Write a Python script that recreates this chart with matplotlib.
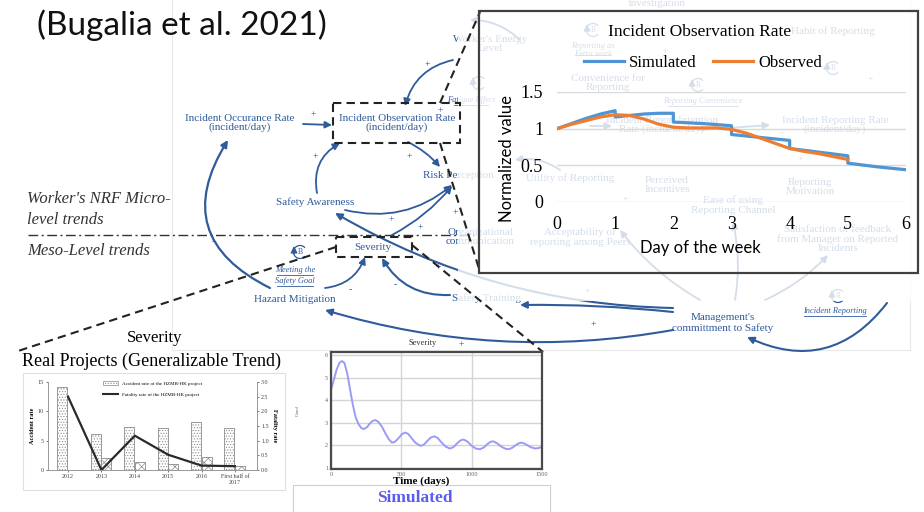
import numpy as np
import matplotlib
matplotlib.use("Agg")
import matplotlib.pyplot as plt
from matplotlib.patches import Rectangle, Arc
from matplotlib.lines import Line2D
from matplotlib.patches import Patch

# incident observation rate, normalised, by day of the week
obs_days = [0, 0.25, 0.5, 0.75, 1, 1.25, 1.5, 1.75, 2, 2.25, 2.5, 2.75, 3,
            3.25, 3.5, 3.75, 4, 4.25, 4.5, 4.75, 5]
obs_vals = [1.00, 1.06, 1.11, 1.16, 1.19, 1.18, 1.13, 1.06, 1.02, 1.01, 1.01,
            1.01, 0.99, 0.94, 0.87, 0.80, 0.73, 0.69, 0.66, 0.62, 0.58]
sim_days = [0, 0.25, 0.5, 0.75, 1, 1, 1.25, 1.5, 1.75, 2, 2, 2.5, 3, 3, 3.5,
            4, 4, 4.5, 5, 5, 5.5, 6]
sim_vals = [1.00, 1.07, 1.14, 1.20, 1.245, 1.16, 1.18, 1.20, 1.21, 1.21, 1.09,
            1.07, 1.04, 0.92, 0.88, 0.84, 0.73, 0.68, 0.63, 0.53, 0.48, 0.44]

# real projects (HZMB-HK)
years = ["2012", "2013", "2014", "2015", "2016", "First half of\n2017"]
accident_rate = [14.1, 6.2, 7.3, 7.2, 8.2, 7.2]
accident_rate_2 = [0, 2.0, 1.4, 1.1, 2.2, 0.6]
fatality_rate = [2.5, 0.0, 1.17, 0.52, 0.15, 0.13]

# simulated severity
sev_t = [0, 20, 40, 60, 78, 95, 115, 135, 155, 175, 195, 215, 232, 255, 275,
         295, 315, 335, 360, 385, 410, 434, 455, 480, 505, 528, 550, 575, 600,
         635, 660, 685, 710, 735, 760, 785, 815, 844, 870, 895, 920, 943, 970,
         1000, 1030, 1057, 1085, 1110, 1135, 1152, 1180, 1210, 1240, 1263,
         1290, 1315, 1340, 1358, 1385, 1420, 1453, 1480, 1500]
sev_v = [4.45, 4.9, 5.35, 5.65, 5.73, 5.65, 5.2, 4.5, 3.8, 3.25, 2.95, 2.77,
         2.72, 2.8, 2.96, 3.08, 3.12, 3.05, 2.85, 2.55, 2.28, 2.12, 2.16, 2.32,
         2.5, 2.57, 2.5, 2.3, 2.12, 1.98, 2.03, 2.2, 2.35, 2.4, 2.32, 2.13,
         1.95, 1.86, 1.92, 2.08, 2.22, 2.26, 2.17, 1.98, 1.86, 1.83, 1.9, 2.05,
         2.16, 2.18, 2.1, 1.95, 1.85, 1.83, 1.9, 2.02, 2.11, 2.12, 2.05, 1.92,
         1.86, 1.89, 1.93]

BLUE = "#2f5b9a"
SERIF = "Liberation Serif"
SANS = "Lato"
plt.rcParams["font.family"] = SERIF
plt.rcParams["hatch.linewidth"] = 0.5
plt.rcParams["hatch.color"] = "#8a8a8a"

fig = plt.figure(figsize=(9.24, 5.12), dpi=100)
bg = fig.add_axes([0, 0, 1, 1])
bg.set_xlim(0, 924)
bg.set_ylim(512, 0)
bg.axis("off")


def box_axes(l, t, r, b):
    return fig.add_axes([l / 924, 1 - b / 512, (r - l) / 924, (b - t) / 512])


def lbl(x, y, s, size=8, color=BLUE, z=3, ha="center", **kw):
    bg.text(x, y, s, ha=ha, va="center", fontsize=size, color=color,
            zorder=z, linespacing=1.05, multialignment="center", **kw)


def uline(x, y, s, w, size=6):
    lbl(x, y, s, size=size, style="italic")
    bg.plot([x - w / 2, x + w / 2], [y + 5, y + 5], color=BLUE, lw=0.6, zorder=3)


def arrow(p0, p1, rad=0.0, lw=1.3, z=3, head=True):
    bg.annotate("", xy=p1, xytext=p0, zorder=z,
                arrowprops=dict(arrowstyle="-|>" if head else "-", color=BLUE, lw=lw,
                                shrinkA=0, shrinkB=0, mutation_scale=10,
                                connectionstyle=f"arc3,rad={rad}"))


def loop(x, y, letter):
    bg.add_patch(Arc((x, y), 13, 13, theta1=40, theta2=320, color=BLUE, lw=0.9, zorder=3))
    lbl(x, y, letter, size=5.5)
    arrow((x - 6, y + 2), (x - 6, y - 6), lw=0.9)


# title
bg.text(37, 25, "(Bugalia et al. 2021)", family=SANS, fontsize=24, va="center", ha="left", color="#111")

# faint diagram frame
bg.add_patch(Rectangle((172, -5), 738, 355, fill=False, edgecolor="#e8e8e8", lw=0.8, zorder=1))

# level labels and separator
lbl(27, 199, "Worker's NRF Micro-", size=12, color="#333", ha="left", style="italic")
lbl(27, 220, "level trends", size=12, color="#333", ha="left", style="italic")
lbl(27, 251, "Meso-Level trends", size=12, color="#333", ha="left", style="italic")
bg.plot([28, 480], [235, 235], color="#333", lw=1, ls=(0, (7, 2.5, 1.5, 2.5)), zorder=2)

# diagram variables
lbl(240, 123, "Incident Occurance Rate\n(incident/day)")
lbl(397, 123, "Incident Observation Rate\n(incident/day)")
lbl(423, 175, "Risk Perception", ha="left")
lbl(315, 202, "Safety Awareness")
lbl(373, 247, "Severity")
lbl(295, 299, "Hazard Mitigation")
lbl(446, 237, "Organizational\ncommunication", ha="left")
lbl(452, 298, "Safety Training", ha="left")
lbl(723, 323, "Management's\ncommittment to Safety")
lbl(490, 44, "Worker's Energy\nLevel")
uline(471, 100, "Fatigue Effect", 34)
lbl(423, 343, "Severity", size=6, color="#333")
uline(295, 270, "Meeting the", 36)
uline(295, 281, "Safety Goal", 36)
uline(835, 311, "Incident Reporting", 62)
loop(300, 252, "B")
loop(838, 296, "R")

# faded sub-model behind the observation-rate chart
lbl(657, 4, "Investigation")
uline(593, 50, "Reporting as\nExtra work", 36)
loop(593, 30, "B")
lbl(833, 31, "Habit of Reporting")
loop(833, 68, "R")
lbl(608, 83, "Convenience for\nReporting")
loop(698, 85, "R")
uline(703, 101, "Reporting Convenience", 70)
lbl(662, 125, "Incident Report Intention\nRate (incident/day)")
lbl(835, 125, "Incident Reporting Rate\n(incident/day)")
lbl(570, 178, "Utility of Reporting")
lbl(667, 185, "Perceived\nIncentives")
lbl(733, 205, "Ease of using\nReporting Channel")
lbl(810, 187, "Reporting\nMotivation")
lbl(580, 237, "Acceptability of\nreporting among Peers")
lbl(838, 239, "Satisfaction of feedback\nfrom Manager on Reported\nIncidents")
loop(479, 83, "1")
arrow((735, 300), (733, 222), rad=0.1)
arrow((765, 300), (828, 255), rad=0.1)
arrow((700, 300), (620, 230), rad=-0.1)
arrow((560, 170), (515, 160), rad=0.2)
arrow((700, 130), (770, 125))
arrow((590, 126), (612, 126))
arrow((520, 40), (470, 20), rad=0.2)

# links
arrow((453, 60), (405, 106), rad=0.3)
arrow((303, 124), (332, 125))
arrow((317, 193), (340, 143), rad=-0.35)
arrow((408, 142), (440, 167), rad=-0.1)
arrow((270, 288), (228, 140), rad=-0.55, lw=1.6)
arrow((345, 210), (452, 185), rad=0.25)
arrow((392, 235), (452, 186), rad=0.1)
arrow((673, 308), (335, 213), rad=-0.13, lw=1.5)
arrow((450, 295), (382, 258), rad=-0.3, lw=1.5)
arrow((325, 288), (365, 257), rad=0.3)
arrow((673, 330), (325, 310), rad=-0.12, lw=1.5)
arrow((673, 312), (520, 305), rad=0.03, lw=1.5)
arrow((887, 303), (747, 337), rad=-0.4, lw=1.5)
for sx, sy, sgn in [(313, 115, "+"), (427, 65, "+"), (315, 157, "+"), (409, 157, "+"),
                    (391, 220, "+"), (420, 228, "+"), (455, 213, "+"), (438, 268, "+"),
                    (593, 325, "+"), (461, 345, "+"), (587, 292, "+"), (350, 290, "-"),
                    (395, 285, "-"), (213, 242, "-"), (440, 111, "+"), (665, 52, "+"),
                    (800, 160, "+"), (625, 200, "+"), (870, 80, "+")]:
    lbl(sx, sy, sgn, size=7)

# fade overlay of the zoomed region
bg.add_patch(Rectangle((458, -2), 470, 303, facecolor="white", alpha=0.8, edgecolor="none", zorder=5))

# callout boxes and dashed connectors
dash = dict(color="#222", lw=1.5, ls=(0, (4, 2.5)), zorder=8)
bg.add_patch(Rectangle((333, 103), 127, 40, fill=False, edgecolor="#222", lw=1.5, ls=(0, (4, 2.5)), zorder=8))
bg.add_patch(Rectangle((336, 237), 76, 20, fill=False, edgecolor="#222", lw=1.5, ls=(0, (4, 2.5)), zorder=8))
bg.plot([440, 480], [103, 12], **dash)
bg.plot([440, 480], [143, 272], **dash)
bg.plot([336, 15], [247, 352], **dash)
bg.plot([412, 543], [245, 352], **dash)

# chart 1: incident observation rate
bg.add_patch(Rectangle((479, 11), 439, 262, fill=False, edgecolor="#404040", lw=1.6, zorder=9))
ax1 = box_axes(557, 92, 906, 202)
ax1.patch.set_alpha(0)
ax1.plot(sim_days, sim_vals, color="#4f94d4", lw=2.3, label="Simulated")
ax1.plot(obs_days, obs_vals, color="#ed7d31", lw=2.3, label="Observed")
ax1.set_xlim(0, 6)
ax1.set_ylim(0, 1.5)
ax1.set_yticks([0, 0.5, 1, 1.5], ["0", "0.5", "1", "1.5"])
ax1.set_xticks(range(7))
ax1.grid(axis="y", color="#d9d9d9", lw=1)
ax1.set_axisbelow(True)
for s in ax1.spines.values():
    s.set_visible(False)
ax1.tick_params(length=0, labelsize=13, pad=10)
ax1.legend(loc="center", bbox_to_anchor=(0.418, 1.264), ncol=2, frameon=False, fontsize=12,
           handlelength=2.4, columnspacing=1.0, handletextpad=0.3)
bg.text(700, 32, "Incident Observation Rate", ha="center", va="center", fontsize=12.5, zorder=9)
bg.text(507, 158, "Normalized value", rotation=90, family=SANS, fontsize=12, ha="center", va="center", zorder=9)
bg.text(700, 248, "Day of the week", family=SANS, fontsize=12, ha="center", va="center", zorder=9)

# chart 2: real projects
bg.text(155, 338, "Severity", ha="center", va="center", fontsize=12)
bg.text(152, 361, "Real Projects (Generalizable Trend)", ha="center", va="center", fontsize=13)
bg.add_patch(Rectangle((23, 373), 262, 117, facecolor="white", edgecolor="#e0e0e0", lw=0.8, zorder=1))
ax2 = box_axes(48, 382, 257, 470)
ax2.patch.set_alpha(0)
x = np.arange(len(years))
ax2.bar(x - 0.17, accident_rate, width=0.3, color="white", edgecolor="#8a8a8a", hatch="......", lw=0.6)
ax2.bar(x + 0.15, accident_rate_2, width=0.3, color="white", edgecolor="#8a8a8a", hatch="xxxx", lw=0.6)
ax2.set_xlim(-0.6, 5.66)
ax2.set_ylim(0, 15)
ax2.set_yticks([0, 5, 10, 15])
ax2.set_xticks(x, years)
ax2.set_ylabel("Accident rate", fontsize=4.5, fontweight="bold", labelpad=2)
ax2b = ax2.twinx()
ax2b.plot(x, fatality_rate, color="#2a2a2a", lw=1.6)
ax2b.set_ylim(0, 3)
ax2b.set_yticks(np.arange(0, 3.01, 0.5), [f"{v:.1f}" for v in np.arange(0, 3.01, 0.5)])
ax2b.set_ylabel("Fatality rate", fontsize=4.5, fontweight="bold", rotation=270, labelpad=6)
for a in (ax2, ax2b):
    a.tick_params(labelsize=4.3, length=1.5, width=0.5, colors="#444", pad=1.5)
    for s in a.spines.values():
        s.set_color("#999")
        s.set_linewidth(0.6)
    a.spines["top"].set_visible(False)
handles = [Patch(facecolor="white", edgecolor="#8a8a8a", hatch="......", lw=0.5),
           Line2D([], [], color="#2a2a2a", lw=1.5)]
ax2.legend(handles, ["Accident rate of the HZMB-HK project", "Fatality rate of the HZMB-HK project"],
           loc="upper center", bbox_to_anchor=(0.5, 1.06), fontsize=3.6, frameon=False,
           handlelength=3, handleheight=0.8, labelspacing=1.3)

# chart 3: simulated severity
ax3 = box_axes(331, 352, 542, 469)
ax3.plot(sev_t, sev_v, color="#9b9bf5", lw=1.4)
ax3.set_xlim(0, 1500)
ax3.set_ylim(0.956, 6.13)
ax3.set_xticks([0, 500, 1000, 1500])
ax3.set_yticks([1, 2, 3, 4, 5, 6])
ax3.grid(color="#d4d4d4", lw=1)
for s in ax3.spines.values():
    s.set_color("#4a4a4a")
    s.set_linewidth(1.6)
ax3.tick_params(labelsize=4.5, length=0, colors="#666", pad=2)
bg.text(421, 481, "Time (days)", ha="center", va="center", fontsize=8, fontweight="bold")
bg.text(298, 410, "Dmnl", rotation=90, ha="center", va="center", fontsize=3.5, color="#777")
bg.add_patch(Rectangle((293, 485), 257, 30, fill=False, edgecolor="#d0d0d0", lw=0.8))
bg.text(415, 498, "Simulated", ha="center", va="center", fontsize=12.5, fontweight="bold", color="#5c5cf0")

fig.savefig("out.png", dpi=100)
